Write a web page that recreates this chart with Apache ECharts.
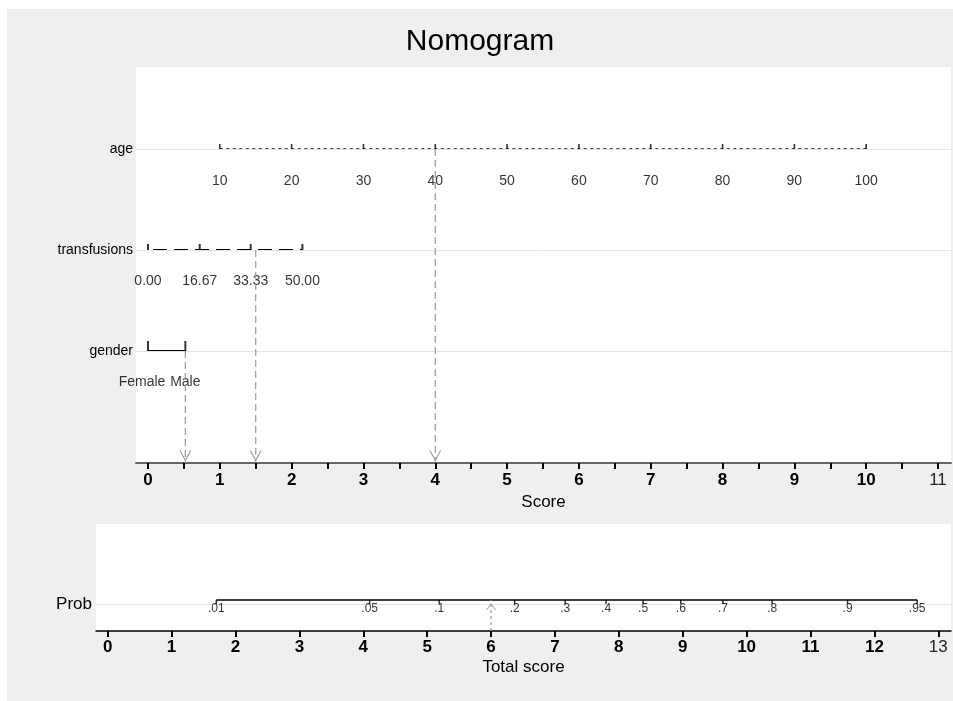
<!DOCTYPE html>
<html>
<head>
<meta charset="utf-8">
<script src="https://cdn.jsdelivr.net/npm/echarts@6/dist/echarts.min.js"></script>
<style>
html,body{margin:0;padding:0;background:#fff;}
#chart{width:953px;height:701px;}
</style>
</head>
<body>
<div id="chart"></div>
<script>
// ---- data ----
const rowNames = ['gender', 'transfusions', 'age'];        // rows 1..3 (bottom to top)
const scoreTicks = [0,1,2,3,4,5,6,7,8,9,10,11];
const scoreMinorTicks = [0,0.5,1,1.5,2,2.5,3,3.5,4,4.5,5,5.5,6,6.5,7,7.5,8,8.5,9,9.5,10,10.5,11];
const totalTicks = [0,1,2,3,4,5,6,7,8,9,10,11,12,13];

const ageValues = [10,20,30,40,50,60,70,80,90,100];
const ageScores = [1,2,3,4,5,6,7,8,9,10];

const transValues = [0, 16.67, 33.33, 50];
const transScores = [0, 0.72, 1.43, 2.15];

const genderLabels = ['Female', 'Male'];
const genderScores = [0, 0.52];

// selected case: age 40, transfusions -> 1.5, gender Male
const selectedScores = [4, 1.5, 0.52];        // age, transfusions, gender
const selectedTotal = 6;

const probLabels = ['.01','.05','.1','.2','.3','.4','.5','.6','.7','.8','.9','.95'];
const probScores = [1.70, 4.10, 5.19, 6.37, 7.16, 7.80, 8.38, 8.97, 9.63, 10.40, 11.58, 12.67];

// ---- chart ----
const FONT = 'Liberation Sans, Arial, Helvetica, sans-serif';
const TOP_YMIN = -0.109, TOP_YMAX = 3.812;
const ROW = {gender: 1, transfusions: 2, age: 3};

const V_DOWN = 'path://M0,0L5,10L10,0L9,0L5,8L1,0Z';
const V_UP = 'path://M0,10L5,0L10,10L9,10L5,2L1,10Z';

function tickSeries(xs, row, w, h, xi, yi, down) {
  return {
    type: 'scatter', xAxisIndex: xi, yAxisIndex: yi, silent: true, z: 4,
    symbol: 'rect', symbolSize: [w, h], symbolOffset: [0, down ? h / 2 : -h / 2],
    itemStyle: {color: '#000'},
    data: xs.map(x => [x, row])
  };
}
function labelSeries(xs, row, texts, offY, fontSize, xi, yi, extraOffsets) {
  return {
    type: 'scatter', xAxisIndex: xi, yAxisIndex: yi, silent: true, z: 5,
    symbolSize: 0,
    label: {show: true, position: 'inside', color: '#000', fontSize: fontSize, fontFamily: FONT},
    data: xs.map((x, i) => ({
      value: [x, row],
      label: {formatter: String(texts[i]), offset: [extraOffsets ? extraOffsets[i] : 0, offY]}
    }))
  };
}
function lineSeries(xs, row, width, type, xi, yi) {
  return {
    type: 'line', xAxisIndex: xi, yAxisIndex: yi, silent: true, z: 3,
    symbol: 'none', lineStyle: {color: '#000', width: width, type: type},
    data: xs.map(x => [x, row])
  };
}
function arrowSeries(x, yFrom, yTo, up, dash, headSize, headOffset, xi, yi) {
  return {
    type: 'line', xAxisIndex: xi, yAxisIndex: yi, silent: true, z: 6,
    showSymbol: true,
    lineStyle: {color: '#999', width: 1.2, type: dash},
    itemStyle: {color: '#999'},
    data: [
      {value: [x, yFrom], symbol: 'none'},
      {value: [x, yTo], symbol: up ? V_UP : V_DOWN, symbolSize: headSize, symbolOffset: [0, headOffset]}
    ]
  };
}

const series = [];
// gridlines
series.push({
  type: 'line', xAxisIndex: 0, yAxisIndex: 0, data: [], silent: true, z: 1,
  markLine: {silent: true, symbol: 'none', label: {show: false},
    lineStyle: {color: '#e4e4e4', width: 1, type: 'solid'},
    data: [1, 2, 3].map(r => ({yAxis: r}))}
});
series.push({
  type: 'line', xAxisIndex: 1, yAxisIndex: 1, data: [], silent: true, z: 1,
  markLine: {silent: true, symbol: 'none', label: {show: false},
    lineStyle: {color: '#e4e4e4', width: 1, type: 'solid'},
    data: [{yAxis: 1}]}
});
// age
series.push(lineSeries(ageScores, ROW.age, 1.7, [3, 3.5], 0, 0));
series.push(tickSeries(ageScores, ROW.age, 1.6, 5, 0, 0));
series.push(labelSeries(ageScores, ROW.age, ageValues, 32, 14, 0, 0));
// transfusions
const tl = lineSeries(transScores, ROW.transfusions, 2, [14, 7], 0, 0);
tl.lineStyle.dashOffset = 16;
series.push(tl);
series.push(tickSeries(transScores, ROW.transfusions, 2, 6, 0, 0));
series.push(labelSeries(transScores, ROW.transfusions, transValues.map(v => v.toFixed(2)), 31, 14, 0, 0));
// gender
series.push(lineSeries(genderScores, ROW.gender, 2, 'solid', 0, 0));
series.push(tickSeries(genderScores, ROW.gender, 2, 10, 0, 0));
series.push(labelSeries(genderScores, ROW.gender, genderLabels, 31, 14, 0, 0, [-6, 0]));
// arrows top
series.push(arrowSeries(selectedScores[0], ROW.age, TOP_YMIN, false, [7, 4], [12, 11], -7, 0, 0));
series.push(arrowSeries(selectedScores[1], ROW.transfusions, TOP_YMIN, false, [7, 4], [12, 11], -7, 0, 0));
series.push(arrowSeries(selectedScores[2], ROW.gender, TOP_YMIN, false, [7, 4], [12, 11], -7, 0, 0));
// prob scale (bottom grid, own y axis)
series.push(lineSeries(probScores, 1, 1.5, 'solid', 1, 2));
series.push(tickSeries(probScores, 1, 1.5, 4, 1, 2, true));
series.push(labelSeries(probScores, 1, probLabels, 9, 12, 1, 2));
series.push(arrowSeries(selectedTotal, 0, 1, true, [3, 3], [10, 7], 6.5, 1, 2));

function axisLabelRich(last) {
  return {
    formatter: v => (v === last ? '{n|' + v + '}' : '{b|' + v + '}'),
    rich: {
      b: {fontWeight: 'bold', fontSize: 17, color: '#000', fontFamily: FONT},
      n: {fontWeight: 'normal', fontSize: 17, color: '#222', fontFamily: FONT}
    }
  };
}

const option = {
  animation: false,
  backgroundColor: '#ffffff',
  graphic: [{
    type: 'rect', z: -10, left: 7, top: 9,
    shape: {width: 946, height: 692}, style: {fill: '#efefef'}, silent: true
  }],
  title: {
    text: 'Nomogram', left: 480, top: 27, textAlign: 'center', padding: 0,
    textStyle: {fontSize: 30, fontWeight: 'normal', color: '#000', fontFamily: FONT}
  },
  grid: [
    {left: 136, top: 67, right: 2, bottom: 238, show: true, backgroundColor: '#fff', borderWidth: 0},
    {left: 96, top: 524, right: 2, bottom: 70, show: true, backgroundColor: '#fff', borderWidth: 0}
  ],
  xAxis: [
    {
      type: 'value', gridIndex: 0, min: -0.167, max: 11.181,
      axisLine: {show: true, onZero: false, lineStyle: {color: '#666', width: 2}},
      axisTick: {show: true, customValues: scoreMinorTicks, length: 6, lineStyle: {color: '#000', width: 2}},
      axisLabel: Object.assign({customValues: scoreTicks, margin: 9}, axisLabelRich(11)),
      splitLine: {show: false},
      name: 'Score', nameLocation: 'middle', nameGap: 30,
      nameTextStyle: {fontSize: 17, color: '#000', fontFamily: FONT}
    },
    {
      type: 'value', gridIndex: 1, min: -0.183, max: 13.199,
      axisLine: {show: true, onZero: false, lineStyle: {color: '#000', width: 1.5}},
      axisTick: {show: true, customValues: totalTicks, length: 6, lineStyle: {color: '#000', width: 2}},
      axisLabel: Object.assign({customValues: totalTicks, margin: 8}, axisLabelRich(13)),
      splitLine: {show: false},
      name: 'Total score', nameLocation: 'middle', nameGap: 28,
      nameTextStyle: {fontSize: 17, color: '#000', fontFamily: FONT}
    }
  ],
  yAxis: [
    {
      type: 'value', gridIndex: 0, min: TOP_YMIN, max: TOP_YMAX,
      axisLine: {show: false}, axisTick: {show: false}, splitLine: {show: false},
      axisLabel: {customValues: [1, 2, 3], formatter: v => rowNames[Math.round(v) - 1],
        fontSize: 14, color: '#000', margin: 3, fontFamily: FONT}
    },
    {
      type: 'value', gridIndex: 1, min: 0, max: 4,
      axisLine: {show: false}, axisTick: {show: false}, splitLine: {show: false},
      axisLabel: {customValues: [1], formatter: () => 'Prob',
        fontSize: 17, color: '#000', margin: 4, fontFamily: FONT}
    },
    {
      type: 'value', gridIndex: 1, min: 0, max: 3.452, show: false,
      splitLine: {show: false}
    }
  ],
  series: series
};

const chart = echarts.init(document.getElementById('chart'), null, {renderer: 'canvas'});
chart.setOption(option);
</script>
</body>
</html>
